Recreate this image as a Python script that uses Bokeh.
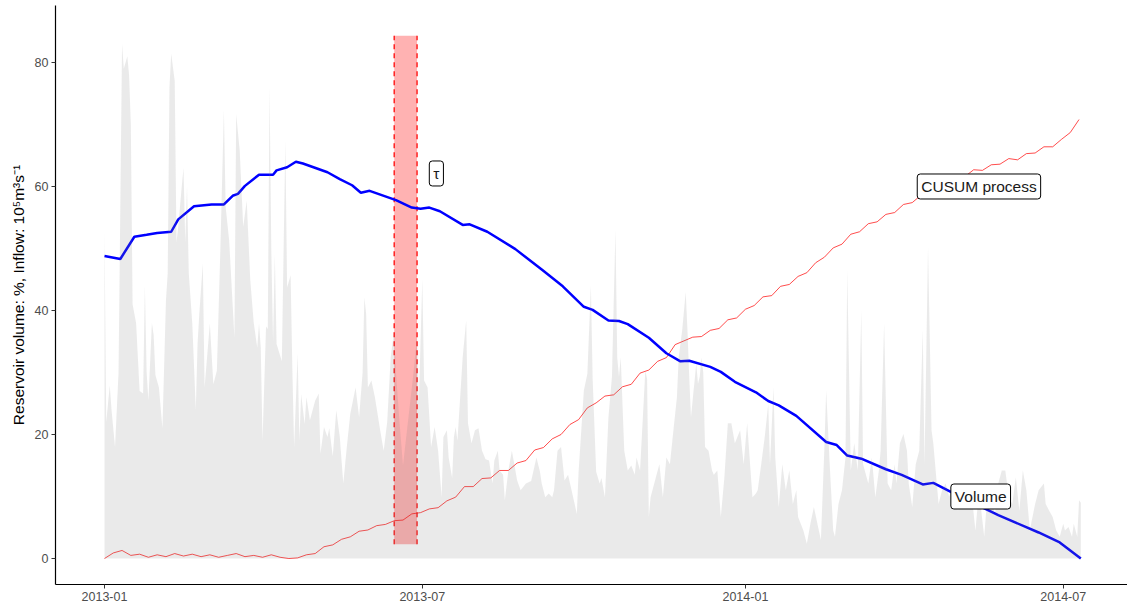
import numpy as np
import pandas as pd
from bokeh.plotting import figure
from bokeh.models import Label, FixedTicker, DatetimeTickFormatter, Range1d, ColumnDataSource
from bokeh.embed import file_html
from bokeh.resources import INLINE

# ---------------- data ----------------
start_date = "2013-01-01"

# daily inflow (10^5 m^3/s), day offsets from start_date
inflow_day = [0, 1, 3, 4, 6, 8, 10, 11, 13, 14,
              15, 16, 18, 20, 22, 23, 24, 25, 27, 28,
              29, 31, 33, 35, 36, 37, 38, 40, 41, 42,
              44, 45, 46, 47, 48, 50, 52, 53, 54, 56,
              57, 60, 62, 64, 66, 68, 69, 71, 74, 75,
              77, 79, 81, 83, 85, 87, 88, 89, 90, 92,
              93, 94, 95, 96, 97, 98, 101, 103, 104, 106,
              107, 108, 110, 111, 112, 114, 115, 117, 120, 121,
              122, 123, 125, 127, 128, 130, 132, 134, 136, 138,
              140, 143, 145, 147, 148, 149, 150, 152, 154, 157,
              159, 161, 163, 165, 166, 168, 170, 172, 174, 176,
              178, 179, 181, 182, 184, 186, 188, 190, 192, 193,
              195, 196, 198, 199, 200, 201, 204, 206, 207, 209,
              211, 213, 215, 217, 219, 221, 222, 224, 225, 227,
              228, 230, 232, 233, 235, 237, 240, 243, 246, 248,
              249, 251, 253, 255, 256, 258, 260, 262, 264, 266,
              269, 270, 273, 275, 277, 278, 280, 282, 283, 285,
              287, 289, 291, 292, 293, 294, 296, 298, 300, 302,
              303, 305, 308, 309, 310, 311, 313, 316, 318, 320,
              322, 324, 326, 327, 329, 331, 332, 333, 334, 337,
              338, 339, 340, 341, 342, 344, 346, 347, 349, 351,
              353, 355, 357, 359, 362, 364, 366, 369, 371, 372,
              374, 376, 378, 379, 381, 382, 384, 386, 388, 390,
              392, 394, 395, 398, 400, 402, 404, 406, 408, 410,
              411, 413, 415, 416, 418, 420, 422, 423, 425, 427,
              429, 431, 432, 435, 437, 439, 441, 442, 444, 446,
              448, 450, 451, 453, 455, 457, 458, 460, 462, 464,
              466, 467, 469, 471, 472, 475, 477, 479, 481, 484,
              486, 489, 492, 494, 496, 498, 501, 503, 505, 507,
              509, 511, 513, 515, 517, 519, 521, 523, 525, 527,
              528, 530, 532, 535, 536, 538, 540, 542, 544, 546,
              547, 549, 551, 552, 554, 555, 556]
inflow = [53, 22, 27.9, 24, 18, 30, 83, 79, 81, 78,
          70, 41, 38, 27, 26.6, 44, 30, 25.5, 38, 36,
          29.6, 27.6, 21, 41.6, 46, 76, 81.4, 77, 51, 53.5,
          60, 63, 51, 60, 46, 37.9, 24, 34.6, 39.5, 47.6,
          27.6, 37.9, 28.1, 30.3, 50, 72.3, 56.7, 51.3, 35.6, 71.7,
          65.8, 53.5, 57.7, 45, 38, 34, 37.9, 34, 19, 37.4,
          37, 76, 49.7, 35, 49, 34.6, 31.8, 67.4, 43.7, 45.7,
          30.3, 18, 33, 19, 26.5, 21.7, 26, 22.3, 25.5, 26,
          26.6, 16.9, 21.2, 19.6, 21, 16.5, 23.9, 19.6, 12.1, 18,
          23.4, 27.6, 22.8, 30, 42.1, 39.5, 27.6, 28.7, 26, 20.7,
          17.4, 22, 32.5, 36.8, 30, 22, 15, 20, 25, 30,
          36, 25, 45, 28.7, 27.6, 18, 21.2, 17.4, 9.9, 19.6,
          20.7, 16.3, 13, 19.6, 21.2, 19, 32.5, 38.4, 21.8, 18.6,
          20.7, 21, 17.4, 16, 15.8, 12.1, 15.8, 17.4, 14.2, 13.5,
          9.4, 14.2, 17.4, 15.8, 12.6, 11, 12.1, 12.5, 16.3, 14,
          12.1, 9.9, 10.5, 9.9, 11, 17.4, 18, 12.6, 13.5, 11,
          7.2, 14, 27.1, 29.8, 44, 29, 14, 12.1, 13, 9.9,
          22.8, 29.3, 53, 32.4, 29.3, 32.4, 17.4, 14.2, 15, 13.5,
          16.3, 14.2, 30.3, 29, 6.7, 9.9, 12, 15.2, 9.9, 16.3,
          15.2, 20.7, 26, 32.4, 36.8, 43, 36.8, 29.3, 22.8, 31.4,
          28.2, 29.3, 32.4, 30, 18, 17.4, 14.2, 13.5, 14.2, 6.7,
          13, 21.8, 21.8, 18.6, 20.7, 15.2, 21.8, 9.9, 10.5, 11,
          15.2, 19.6, 24.9, 15.2, 27.6, 16.3, 8.3, 15.2, 11, 14.2,
          8.8, 11, 6.7, 4.5, 2.4, 5.6, 8.3, 5.6, 3, 18,
          27.1, 15.2, 4.5, 3.5, 8.8, 11, 16.3, 46.5, 14.2, 18.6,
          14.2, 40, 15.2, 12.1, 16.3, 9.9, 14.2, 17.4, 37.9, 12.1,
          11, 15.2, 12.1, 18.6, 20.1, 17.4, 12.1, 8.3, 15.2, 17.4,
          36.8, 15.2, 50.2, 20.7, 18.6, 8.8, 11, 12.1, 10, 12.1,
          7.7, 9.9, 12.1, 9.9, 4.5, 11, 3.5, 11, 12.1, 6.7,
          12.1, 14.2, 14.2, 9.9, 8.8, 13.1, 7.7, 14.2, 11, 4.5,
          6, 8.8, 11, 12.1, 8.8, 7.7, 6.7, 4.5, 3.5, 5.6,
          4.5, 5.1, 3.5, 5.6, 3.5, 9.4, 9.0]

# reservoir volume (%)
volume_day = [0, 9, 17, 24, 30, 38, 42, 51, 61, 68,
              73, 76, 80, 88, 96, 98, 104, 109, 113, 127,
              134, 141, 146, 151, 166, 175, 180, 185, 191, 204,
              208, 218, 234, 249, 261, 273, 278, 287, 293, 298,
              310, 320, 328, 333, 345, 351, 359, 371, 378, 384,
              394, 411, 417, 423, 431, 445, 454, 466, 472, 485,
              509, 532, 544, 556]
volume = [48.8, 48.3, 51.9, 52.2, 52.5, 52.7, 54.7, 56.8, 57.1, 57.1,
          58.5, 58.8, 60.1, 61.9, 61.9, 62.6, 63.1, 64.0, 63.7, 62.3,
          61.2, 60.2, 59.0, 59.3, 57.8, 56.6, 56.4, 56.6, 56.0, 53.8,
          53.9, 52.7, 49.9, 46.6, 43.9, 40.6, 40.1, 38.4, 38.3, 37.8,
          35.6, 33.1, 31.8, 31.9, 30.9, 30.1, 28.5, 26.8, 25.4, 24.7,
          23.0, 18.8, 18.3, 16.6, 16.1, 14.4, 13.5, 11.95, 12.2, 10.3,
          7.0, 4.2, 2.6, 0.0]

# CUSUM process, every 5 days
cusum_day = list(range(0, 560, 5))
cusum = [0.0, 0.9, 1.3, 0.5, 0.7, 0.2, 0.6, 0.3, 0.8, 0.4,
         0.7, 0.3, 0.6, 0.2, 0.5, 0.8, 0.3, 0.5, 0.2, 0.6,
         0.2, 0.0, 0.1, 0.6, 0.8, 1.9, 2.2, 3.1, 3.5, 4.4,
         4.6, 5.3, 5.5, 6.1, 6.2, 7.2, 7.4, 8.0, 8.2, 9.3,
         9.9, 11.6, 11.6, 12.9, 13.0, 14.2, 14.2, 15.4, 15.8, 17.5,
         17.9, 19.3, 20.0, 21.6, 22.4, 24.3, 25.1, 26.2, 26.4, 27.7,
         28.1, 29.9, 30.4, 31.8, 32.4, 34.5, 35.1, 35.7, 35.8, 36.8,
         37.1, 38.5, 38.8, 40.2, 40.8, 42.2, 42.4, 43.9, 44.2, 45.5,
         46.1, 47.7, 48.6, 50.1, 50.7, 52.3, 52.7, 54.0, 54.3, 55.5,
         55.8, 57.1, 57.4, 58.6, 58.7, 60.1, 60.4, 61.6, 61.6, 62.7,
         62.6, 63.5, 63.6, 64.5, 64.3, 65.3, 65.4, 66.4, 66.4, 67.6,
         68.7, 70.8]

# change-point interval
tau_lower = "2013-06-15"
tau_upper = "2013-06-28"
tau_ymin = 2.3
tau_ymax = 84.3

# annotations
label_texts = ["τ", "CUSUM process", "Volume"]
label_dates = ["2013-07-09", "2014-05-14", "2014-05-15"]
label_y = [62.1, 60.0, 10.0]

x_tick_dates = ["2013-01-01", "2013-07-01", "2014-01-01", "2014-07-01"]
y_ticks = [0, 20, 40, 60, 80]

# ---------------- helpers ----------------
DAY_MS = 86400000.0


def ms(date_str):
    return pd.Timestamp(date_str).value / 1e6


t0 = ms(start_date)


def days_to_ms(days):
    return [t0 + d * DAY_MS for d in days]


FONT = "Liberation Sans"

p = figure(width=1127, height=603, x_axis_type="datetime",
           output_backend="svg", toolbar_location=None,
           x_range=Range1d(t0 - 27.9 * DAY_MS, t0 + 582.6 * DAY_MS),
           y_range=Range1d(-4.19, 89.19),
           min_border_left=55, min_border_right=0, min_border_top=5,
           min_border_bottom=0)
p.outline_line_color = None
p.background_fill_color = "white"
p.border_fill_color = "white"
p.xgrid.visible = False
p.ygrid.visible = False

# tau interval
p.quad(left=[ms(tau_lower)], right=[ms(tau_upper)], bottom=[tau_ymin], top=[tau_ymax],
       fill_color="#FF0000", fill_alpha=0.3, line_color=None)
p.segment(x0=[ms(tau_lower), ms(tau_upper)], y0=[tau_ymin, tau_ymin],
          x1=[ms(tau_lower), ms(tau_upper)], y1=[tau_ymax, tau_ymax],
          line_color="#FF2020", line_width=1.5, line_dash="5 4")

# CUSUM
p.line(x=days_to_ms(cusum_day), y=cusum, line_color="#FF0000", line_alpha=0.7, line_width=1)

# volume
p.line(x=days_to_ms(volume_day), y=volume, line_color="#0000FF", line_width=2.5)

# inflow area (drawn on top, translucent)
src = ColumnDataSource(dict(x=days_to_ms(inflow_day), y=inflow))
p.varea(x="x", y1=0, y2="y", source=src, fill_color="#7F7F7F", fill_alpha=0.16)

# labels
for txt, d, yv in zip(label_texts, label_dates, label_y):
    p.add_layout(Label(x=ms(d), y=yv, text=txt, text_align="center", text_baseline="middle",
                       text_font=FONT, text_font_size="15.5px", text_color="#1A1A1A",
                       background_fill_color="white", background_fill_alpha=1.0,
                       border_line_color="black", border_line_width=1,
                       padding=4, border_radius=3))

# axes
p.xaxis.ticker = FixedTicker(ticks=[ms(d) for d in x_tick_dates])
p.xaxis.formatter = DatetimeTickFormatter(years="%Y-%m", months="%Y-%m", days="%Y-%m",
                                          hours="%Y-%m", minutes="%Y-%m", seconds="%Y-%m",
                                          milliseconds="%Y-%m", microseconds="%Y-%m",
                                          hourmin="%Y-%m", minsec="%Y-%m")
p.yaxis.ticker = FixedTicker(ticks=y_ticks)
for ax in (p.xaxis, p.yaxis):
    ax.axis_line_color = "black"
    ax.axis_line_width = 1.2
    ax.major_tick_line_color = "#333333"
    ax.major_tick_out = 4
    ax.major_tick_in = 0
    ax.minor_tick_out = 0
    ax.minor_tick_in = 0
    ax.major_label_text_color = "#4D4D4D"
    ax.major_label_text_font = FONT
    ax.major_label_text_font_size = "12.5px"
    ax.major_label_standoff = 3

p.yaxis.axis_label = "Reservoir volume: %, Inflow: 10⁵m³s⁻¹"
p.yaxis.axis_label_text_font = FONT
p.yaxis.axis_label_text_font_size = "15.5px"
p.yaxis.axis_label_text_font_style = "normal"
p.yaxis.axis_label_text_color = "black"
p.yaxis.axis_label_standoff = 5

open("out.html", "w").write(file_html(p, INLINE))
